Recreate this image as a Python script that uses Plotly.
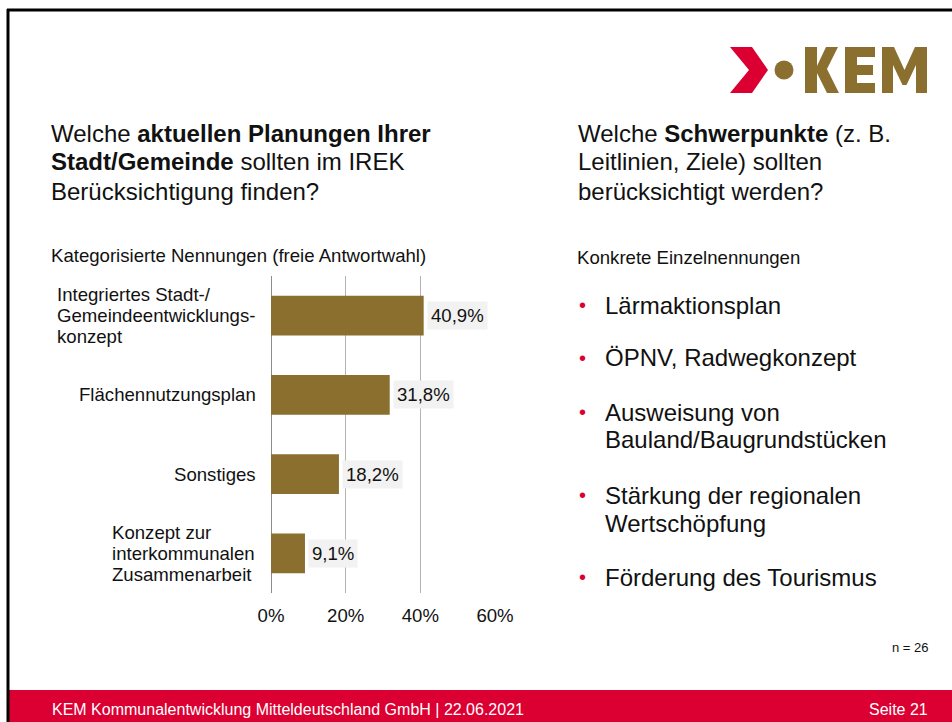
import plotly.graph_objects as go

# --- data ---------------------------------------------------------------
categories = [
    "Integriertes Stadt-/<br>Gemeindeentwicklungs-<br>konzept",
    "Flächennutzungsplan",
    "Sonstiges",
    "Konzept zur<br>interkommunalen<br>Zusammenarbeit",
]
shares = [40.9, 31.8, 18.2, 9.1]
tick_values = [0, 20, 40, 60]
tick_labels = ["0%", "20%", "40%", "60%"]

focus_items = [
    ["Lärmaktionsplan"],
    ["ÖPNV, Radwegkonzept"],
    ["Ausweisung von", "Bauland/Baugrundstücken"],
    ["Stärkung der regionalen", "Wertschöpfung"],
    ["Förderung des Tourismus"],
]

# --- styling ------------------------------------------------------------
W, H = 952, 722
FONT = "Liberation Sans, Arial, sans-serif"
GOLD = "#8B6F2F"
RED = "#DC0032"
TEXT = "#111111"
SMALL = 18.6
LARGE = 24
PAD = 2.5  # inner padding of annotation boxes


def X(px):
    return px / W


def Y(py):
    return 1 - py / H


def ax(px, anchor):
    # text edge position -> annotation box edge position
    if anchor == "left":
        return X(px - PAD)
    if anchor == "right":
        return X(px + PAD)
    return X(px)


fig = go.Figure()

fig.add_trace(
    go.Bar(
        x=shares,
        y=categories,
        orientation="h",
        marker=dict(color=GOLD, line=dict(width=0)),
        hoverinfo="skip",
    )
)

annotations = []
shapes = []

# value labels with light box
for cat, v in zip(categories, shares):
    annotations.append(
        dict(
            x=v, y=cat, xref="x", yref="y",
            text=f"{v:.1f}%".replace(".", ","),
            showarrow=False, xanchor="left", yanchor="middle", xshift=3,
            bgcolor="#F2F2F2", borderpad=3,
            font=dict(family=FONT, size=SMALL, color=TEXT),
        )
    )

# category labels: single lines end at the axis, wrapped labels form
# left-aligned blocks
block_left = {0: 57, 3: 112}
LINE_GAP = 21
for i, cat in enumerate(categories):
    parts = cat.split("<br>")
    n = len(parts)
    for j, part in enumerate(parts):
        if n == 1:
            xpos, anchor = 255, "right"
        else:
            xpos, anchor = block_left[i], "left"
        annotations.append(
            dict(
                x=ax(xpos, anchor), y=cat, xref="paper", yref="y",
                yshift=((n - 1) / 2 - j) * LINE_GAP,
                text=part, showarrow=False, xanchor=anchor, yanchor="middle",
                font=dict(family=FONT, size=SMALL, color=TEXT),
            )
        )


def line_text(x, y, text, size, color=TEXT, anchor="left"):
    annotations.append(
        dict(
            x=ax(x, anchor), y=Y(y), xref="paper", yref="paper",
            text=text, showarrow=False, xanchor=anchor, yanchor="middle",
            font=dict(family=FONT, size=size, color=color),
        )
    )


# left heading
line_text(51, 133, "Welche <b>aktuellen Planungen Ihrer</b>", LARGE)
line_text(51, 162, "<b>Stadt/Gemeinde</b> sollten im IREK", LARGE)
line_text(51, 191, "Berücksichtigung finden?", LARGE)
line_text(51, 256, "Kategorisierte Nennungen (freie Antwortwahl)", SMALL)

# right heading
line_text(578, 133, "Welche <b>Schwerpunkte</b> (z. B.", LARGE)
line_text(578, 162, "Leitlinien, Ziele) sollten", LARGE)
line_text(578, 191, "berücksichtigt werden?", LARGE)
line_text(577, 257, "Konkrete Einzelnennungen", SMALL)

# bullet list
item_rows = [[305], [358], [412, 440], [495, 523], [577]]
for lines, rows in zip(focus_items, item_rows):
    line_text(579, rows[0], "•", 20, color=RED)
    for txt, yy in zip(lines, rows):
        line_text(605, yy, txt, LARGE)

# sample size and footer
line_text(928, 647, "n = 26", 13, anchor="right")
line_text(52, 709, "KEM Kommunalentwicklung Mitteldeutschland GmbH | 22.06.2021", 16,
          color="white")
line_text(927, 709, "Seite 21", 16, color="white", anchor="right")

# slide frame and footer band
shapes.append(dict(type="rect", xref="paper", yref="paper", x0=X(9), x1=X(W),
                   y0=Y(722), y1=Y(690), fillcolor=RED, line=dict(width=0),
                   layer="below"))
shapes.append(dict(type="line", xref="paper", yref="paper", x0=X(7), x1=X(W),
                   y0=Y(10), y1=Y(10), line=dict(color="#000000", width=3)))
shapes.append(dict(type="line", xref="paper", yref="paper", x0=X(8), x1=X(8),
                   y0=Y(9), y1=Y(722), line=dict(color="#000000", width=3)))


def poly(points, color):
    d = "M " + " L ".join(f"{X(px):.5f},{Y(py):.5f}" for px, py in points) + " Z"
    shapes.append(dict(type="path", xref="paper", yref="paper", path=d,
                       fillcolor=color, line=dict(width=0)))


# logo: chevron, dot, KEM
poly([(730, 47), (752, 47), (768, 70), (752, 93), (730, 93), (749, 70)], RED)
shapes.append(dict(type="circle", xref="paper", yref="paper",
                   x0=X(774.5), x1=X(793.5), y0=Y(79.5), y1=Y(60.5),
                   fillcolor=GOLD, line=dict(width=0)))
poly([(805, 47), (817, 47), (817, 66), (826, 47), (838, 47), (827, 69),
      (839, 93), (827, 93), (817, 73), (817, 93), (805, 93)], GOLD)
poly([(845, 47), (875, 47), (875, 57), (857, 57), (857, 65), (873, 65),
      (873, 75), (857, 75), (857, 83), (875, 83), (875, 93), (845, 93)], GOLD)
poly([(882, 47), (894, 47), (904.5, 70), (915, 47), (927, 47), (927, 93),
      (916, 93), (916, 65), (906.5, 85), (902.5, 85), (893, 65), (893, 93),
      (882, 93)], GOLD)

fig.update_layout(
    width=W, height=H, autosize=False,
    margin=dict(l=0, r=0, t=0, b=0, pad=0, autoexpand=False),
    paper_bgcolor="white", plot_bgcolor="white",
    showlegend=False,
    bargap=0.5,
    annotations=annotations,
    shapes=shapes,
    xaxis=dict(
        domain=[X(271), X(495)], range=[0, 60],
        tickvals=tick_values, ticktext=tick_labels,
        showgrid=True, gridcolor="#B3B3B3", gridwidth=1.3,
        zeroline=True, zerolinecolor="#8C8C8C", zerolinewidth=1.3,
        showline=False, ticks="", ticklabelstandoff=9,
        tickfont=dict(family=FONT, size=SMALL, color=TEXT),
        fixedrange=True,
    ),
    yaxis=dict(
        domain=[Y(593), Y(276)],
        categoryorder="array", categoryarray=categories,
        autorange="reversed",
        showticklabels=False, showgrid=False, zeroline=False, ticks="",
        fixedrange=True,
    ),
)

fig.write_html("out.html")
